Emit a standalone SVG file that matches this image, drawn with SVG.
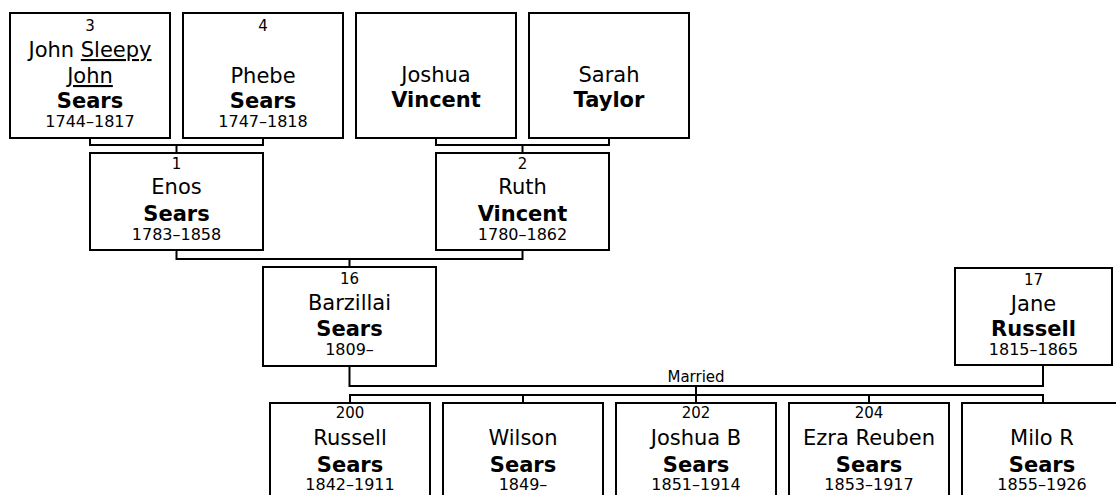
<svg xmlns="http://www.w3.org/2000/svg" width="1116" height="495" viewBox="0 0 1116 495">
<style>
.box{fill:#fff;stroke:#000;stroke-width:2}
.ln{fill:none;stroke:#000;stroke-width:2}
text{font-family:"DejaVu Sans","Noto Sans",sans-serif;fill:#000;text-anchor:middle}
.num{font-size:15px}
.nm{font-size:21px}
.sn{font-size:21px;font-weight:bold}
.yr{font-size:16px}
.ul{text-decoration:underline}
.lbl{font-size:15px}
</style>
<rect width="1116" height="495" fill="#fff"/>
<g id="connectors">
<path class="ln" d="M90,138V145H263V138M176.5,145V153"/>
<path class="ln" d="M436,138V145H609V138M522.5,145V153"/>
<path class="ln" d="M176.5,250V259H522.5V250M349.5,259V267"/>
<path class="ln" d="M349.5,366V386H1043V365M696,386V395"/>
<path class="ln" d="M350,403V395H1043V403M523,395V403M696,395V403M869,395V403"/>
<text class="lbl" x="696" y="382">Married</text>
</g>
<g id="p3">
<rect class="box" x="10" y="13" width="160" height="125"/>
<text class="num" x="90" y="31">3</text>
<text class="nm" x="90" y="57">John <tspan class="ul">Sleepy</tspan></text>
<text class="nm ul" x="90" y="83">John</text>
<text class="sn" x="90" y="108">Sears</text>
<text class="yr" x="90" y="127">1744–1817</text>
</g>
<g id="p4">
<rect class="box" x="183" y="13" width="160" height="125"/>
<text class="num" x="263" y="31">4</text>
<text class="nm" x="263" y="83">Phebe</text>
<text class="sn" x="263" y="108">Sears</text>
<text class="yr" x="263" y="127">1747–1818</text>
</g>
<g id="p5">
<rect class="box" x="356" y="13" width="160" height="125"/>
<text class="nm" x="436" y="82">Joshua</text>
<text class="sn" x="436" y="107">Vincent</text>
</g>
<g id="p6">
<rect class="box" x="529" y="13" width="160" height="125"/>
<text class="nm" x="609" y="82">Sarah</text>
<text class="sn" x="609" y="107">Taylor</text>
</g>
<g id="p1">
<rect class="box" x="90" y="153" width="173" height="97"/>
<text class="num" x="176.5" y="169">1</text>
<text class="nm" x="176.5" y="194">Enos</text>
<text class="sn" x="176.5" y="221">Sears</text>
<text class="yr" x="176.5" y="240">1783–1858</text>
</g>
<g id="p2">
<rect class="box" x="436" y="153" width="173" height="97"/>
<text class="num" x="522.5" y="169">2</text>
<text class="nm" x="522.5" y="194">Ruth</text>
<text class="sn" x="522.5" y="221">Vincent</text>
<text class="yr" x="522.5" y="240">1780–1862</text>
</g>
<g id="p16">
<rect class="box" x="263" y="267" width="173" height="99"/>
<text class="num" x="349.5" y="284">16</text>
<text class="nm" x="349.5" y="310">Barzillai</text>
<text class="sn" x="349.5" y="336">Sears</text>
<text class="yr" x="349.5" y="355">1809–</text>
</g>
<g id="p17">
<rect class="box" x="955" y="268" width="157" height="97"/>
<text class="num" x="1033.5" y="285">17</text>
<text class="nm" x="1033.5" y="311">Jane</text>
<text class="sn" x="1033.5" y="336">Russell</text>
<text class="yr" x="1033.5" y="355">1815–1865</text>
</g>
<g id="p200">
<rect class="box" x="270" y="403" width="160" height="110"/>
<text class="num" x="350" y="418">200</text>
<text class="nm" x="350" y="445">Russell</text>
<text class="sn" x="350" y="471.5">Sears</text>
<text class="yr" x="350" y="490">1842–1911</text>
</g>
<g id="p201">
<rect class="box" x="443" y="403" width="160" height="110"/>
<text class="nm" x="523" y="445">Wilson</text>
<text class="sn" x="523" y="471.5">Sears</text>
<text class="yr" x="523" y="490">1849–</text>
</g>
<g id="p202">
<rect class="box" x="616" y="403" width="160" height="110"/>
<text class="num" x="696" y="418">202</text>
<text class="nm" x="696" y="445">Joshua B</text>
<text class="sn" x="696" y="471.5">Sears</text>
<text class="yr" x="696" y="490">1851–1914</text>
</g>
<g id="p204">
<rect class="box" x="789" y="403" width="160" height="110"/>
<text class="num" x="869" y="418">204</text>
<text class="nm" x="869" y="445">Ezra Reuben</text>
<text class="sn" x="869" y="471.5">Sears</text>
<text class="yr" x="869" y="490">1853–1917</text>
</g>
<g id="p205">
<rect class="box" x="962" y="403" width="160" height="110"/>
<text class="nm" x="1042" y="445">Milo R</text>
<text class="sn" x="1042" y="471.5">Sears</text>
<text class="yr" x="1042" y="490">1855–1926</text>
</g>
</svg>
